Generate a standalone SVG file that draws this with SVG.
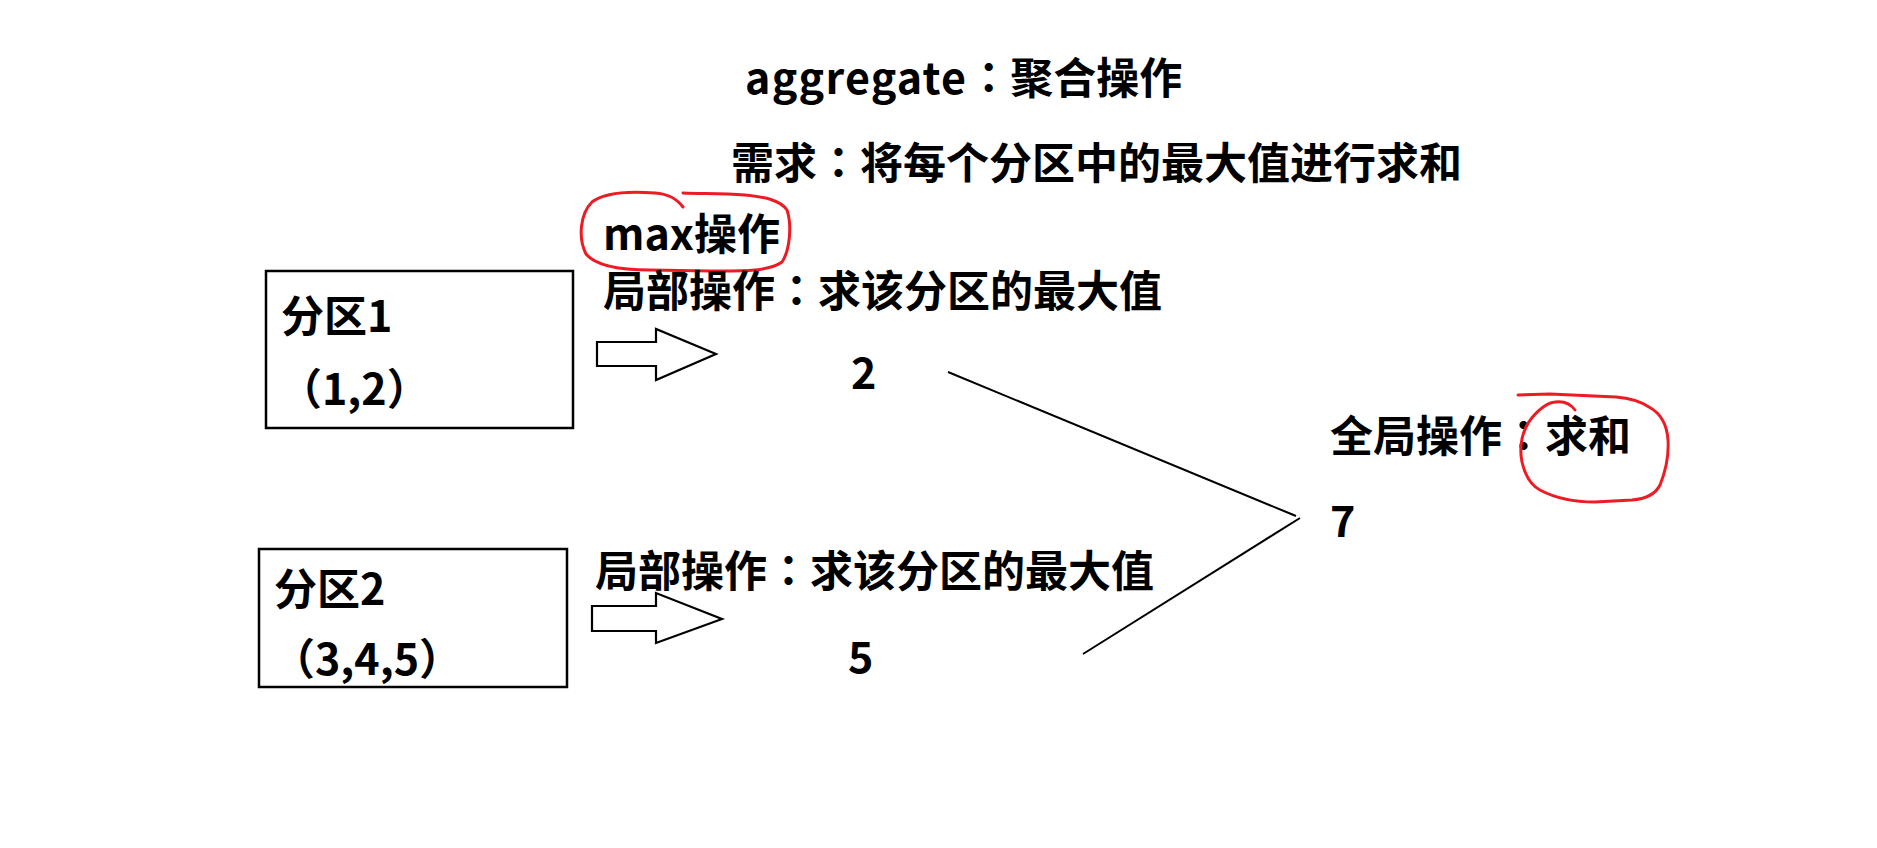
<svg xmlns="http://www.w3.org/2000/svg" width="1877" height="848" viewBox="0 0 1877 848">
<style>
.t{font-family:"Noto Sans CJK SC","Microsoft YaHei","Noto Sans",sans-serif;font-weight:bold;font-size:43px;fill:#000}
.c{font-family:"Noto Sans CJK JP","Noto Sans CJK TC",sans-serif}
.box{fill:none;stroke:#000;stroke-width:2.5}
.ln{fill:none;stroke:#000;stroke-width:2}
.arr{fill:#fff;stroke:#000;stroke-width:2.2;stroke-linejoin:miter}
.red{fill:none;stroke:#ed1c24;stroke-width:3;stroke-linecap:round;stroke-linejoin:round}
</style>
<rect width="1877" height="848" fill="#fff"/>
<g id="title">
<text class="t" x="745" y="94" font-size="42"><tspan textLength="221" lengthAdjust="spacing">aggregate</tspan><tspan class="c">：</tspan>聚合操作</text>
<text class="t" x="731" y="179">需求<tspan class="c">：</tspan>将每个分区中的最大值进行求和</text>
</g>
<g id="partition1">
<rect class="box" x="266" y="271" width="307" height="157"/>
<text class="t" x="281" y="332">分区1</text>
<text class="t" x="279" y="405">（1,2）</text>
</g>
<g id="partition2">
<rect class="box" x="259" y="549" width="308" height="138"/>
<text class="t" x="274" y="605">分区2</text>
<text class="t" x="272" y="675">（3,4,5）</text>
</g>
<g id="max-label">
<text class="t" x="603" y="250">max操作</text>
<path class="red" d="M683,207 C676,198 668,194 655,193 C630,191 605,192 592,202 C580,214 578,238 586,254 C596,266 620,270 650,270 L710,271 C740,271 768,272 782,262 C790,250 792,225 787,210 C780,200 765,197 745,195 C720,193 700,194 683,193"/>
</g>
<g id="local1">
<text class="t" x="603" y="307">局部操作<tspan class="c">：</tspan>求该分区的最大值</text>
<text class="t" x="851" y="389">2</text>
</g>
<g id="local2">
<text class="t" x="595" y="587">局部操作<tspan class="c">：</tspan>求该分区的最大值</text>
<text class="t" x="848" y="673">5</text>
</g>
<g id="global">
<text class="t" x="1330" y="452">全局操作<tspan class="c">：</tspan>求和</text>
<text class="t" x="1330" y="537">7</text>
<path class="red" d="M1575,410 C1570,403 1562,401 1555,402 C1545,403 1532,415 1526,427 C1520,440 1520,452 1522,462 C1525,475 1530,485 1540,490 C1555,498 1575,502 1595,502 L1632,500 C1645,499 1655,495 1660,485 C1666,470 1669,455 1668,440 C1667,425 1662,414 1649,407 C1640,401 1628,398 1616,397 L1550,394 L1518,395"/>
</g>
<g id="connectors">
<polygon class="arr" points="597,342 656,342 656,329 716,354 656,380 656,366 597,366"/>
<polygon class="arr" points="592,606 656,606 656,593 722,619 656,643 656,631 592,631"/>
<line class="ln" x1="948" y1="372" x2="1296" y2="516"/>
<line class="ln" x1="1300" y1="518" x2="1083" y2="654"/>
</g>
</svg>
